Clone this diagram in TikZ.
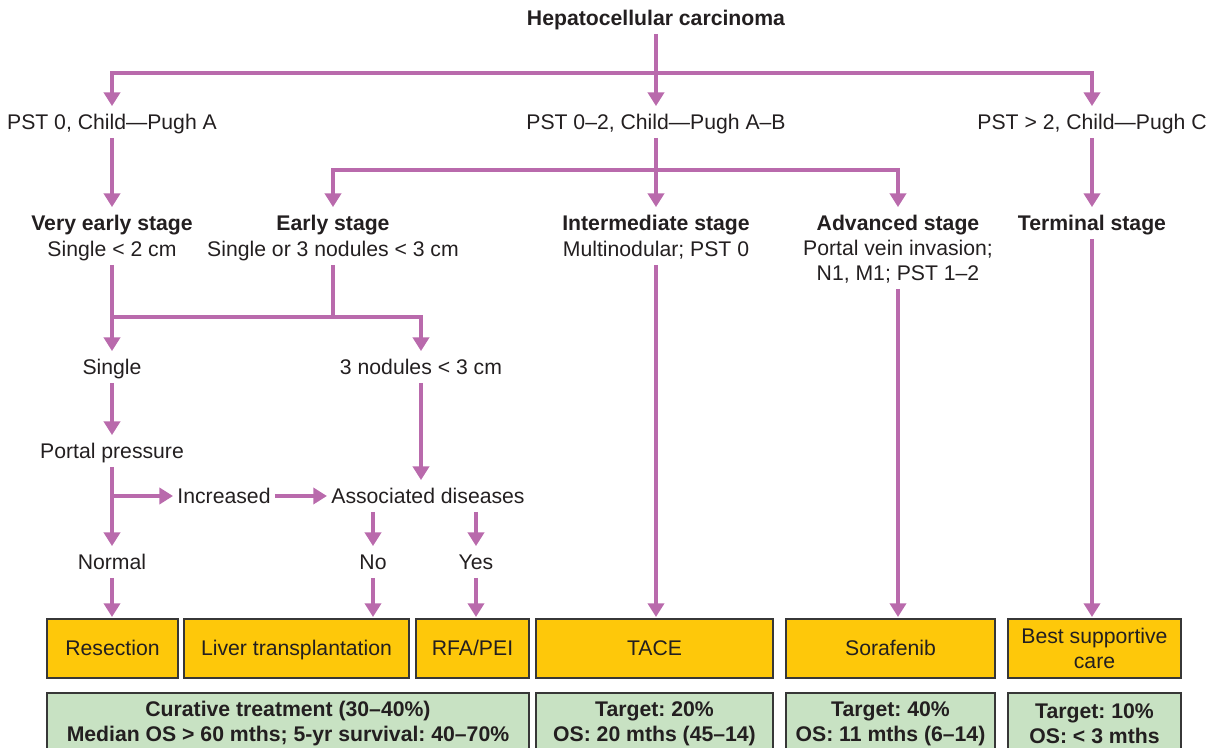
\documentclass[tikz,border=0pt]{standalone}
\usepackage{fontspec}
\setmainfont{Liberation Sans}
\usetikzlibrary{arrows.meta}
\definecolor{pur}{RGB}{185,106,172}
\definecolor{ylw}{RGB}{254,200,10}
\definecolor{grn}{RGB}{200,226,195}
\definecolor{txt}{RGB}{35,31,32}
\definecolor{edge}{RGB}{55,55,55}
\frenchspacing
\begin{document}
\frenchspacing
\begin{tikzpicture}[x=0.5pt,y=-0.5pt,
  every node/.style={font=\fontsize{10.6}{12.5}\selectfont\frenchspacing, text=txt},
  t/.style={inner xsep=2pt, inner ysep=4pt, text height=7.5pt, text depth=0pt},
  tb/.style={t, font=\fontsize{10.6}{12.5}\selectfont\bfseries\frenchspacing},
  conn/.style={draw=pur, line width=2.4pt},
  arr/.style={conn, -{Triangle[width=8pt,length=6.8pt]}},
  ybox/.style={draw=edge, line width=0.7pt, fill=ylw, inner sep=0pt, outer sep=0pt,
    minimum height=29.5pt, align=center, text height=7.5pt, text depth=0pt},
  gbox/.style={draw=edge, line width=0.7pt, fill=grn, inner sep=0pt, outer sep=0pt,
    minimum height=30.5pt, align=center, font=\fontsize{10.6}{12.5}\selectfont\bfseries\frenchspacing},
]
\useasboundingbox (0,0) rectangle (1217,748);

% text nodes
\node[tb] (title) at (656,18) {Hepatocellular carcinoma};
\node[t] (pa) at (112,122) {PST 0, Child—Pugh A};
\node[t] (pb) at (656,122) {PST 0–2, Child—Pugh A–B};
\node[t] (pc) at (1092,122) {PST > 2, Child—Pugh C};

\node[tb] (ve) at (112,223) {Very early stage};
\node[t] (ve2) at (112,249) {Single < 2 cm};
\node[tb] (ea) at (333,223) {Early stage};
\node[t] (ea2) at (333,249) {Single or 3 nodules < 3 cm};
\node[tb] (in) at (656,223) {Intermediate stage};
\node[t] (in2) at (656,249) {Multinodular; PST 0};
\node[tb] (ad) at (898,223) {Advanced stage};
\node[t] (ad2) at (898,248) {Portal vein invasion;};
\node[t] (ad3) at (898,273) {N1, M1; PST 1–2};
\node[tb] (te) at (1092,223) {Terminal stage};

\node[t] (single) at (112,367) {Single};
\node[t] (three) at (421,367) {3 nodules < 3 cm};
\node[t] (portal) at (112,451) {Portal pressure};
\node[t] (incr) at (224,496) {Increased};
\node[t] (assoc) at (428,496) {Associated diseases};
\node[t] (normal) at (112,562) {Normal};
\node[t] (no) at (373,562) {No};
\node[t] (yes) at (476,562) {Yes};

% treatment boxes
\node[ybox, minimum width=65.5pt] (res) at (112.5,648.5) {Resection};
\node[ybox, minimum width=112.5pt] (liver) at (296.5,648.5) {Liver transplantation};
\node[ybox, minimum width=56.5pt] (rfa) at (472.5,648.5) {RFA/PEI};
\node[ybox, minimum width=118.5pt] (tace) at (654.5,648.5) {TACE};
\node[ybox, minimum width=104.5pt] (sora) at (890.5,648.5) {Sorafenib};
\node[ybox, minimum width=86.5pt, text height=20pt, text depth=0pt] (best) at (1094.5,648.5) {Best supportive\\care};

% outcome boxes
\node[gbox, minimum width=241pt] (cur) at (288,723.5) {Curative treatment (30–40\%)\\Median OS > 60 mths; 5-yr survival: 40–70\%};
\node[gbox, minimum width=118.5pt] (o20) at (654.5,723.5) {Target: 20\%\\OS: 20 mths (45–14)};
\node[gbox, minimum width=104.5pt] (o40) at (890.5,723.5) {Target: 40\%\\OS: 11 mths (6–14)};
\node[gbox, minimum width=86.5pt] (o10) at (1094.5,723.5) {Target: 10\%\\OS: < 3 mths};

% connectors
\coordinate (h1) at (656,73);
\draw[conn] (title.south) -- (h1);
\draw[arr] (h1) -| (pa.north);
\draw[arr] (h1) -- (pb.north);
\draw[arr] (h1) -| (pc.north);

\coordinate (h2) at (656,170);
\draw[conn] (pb.south) -- (h2);
\draw[arr] (h2) -| (ea.north);
\draw[arr] (h2) -- (in.north);
\draw[arr] (h2) -| (ad.north);
\draw[arr] (pa.south) -- (ve.north);
\draw[arr] (pc.south) -- (te.north);

\coordinate (h3) at (333,317);
\draw[conn] (ea2.south) -- (h3);
\draw[arr] (h3) -| (three.north);
\draw[conn] (h3) -- (h3 -| ve2.south);
\draw[arr] (ve2.south) -- (single.north);

\draw[arr] (single.south) -- (portal.north);
\draw[arr] (portal.south) -- (normal.north);
\draw[arr] (portal.south |- incr.west) -- (incr.west);
\draw[arr] (incr.east) -- (assoc.west);
\draw[arr] (three.south) -- (three.south |- assoc.north);
\draw[arr] (assoc.south -| no) -- (no.north);
\draw[arr] (assoc.south -| yes) -- (yes.north);

\draw[arr, shorten >=1pt] (normal.south) -- (normal.south |- res.north);
\draw[arr, shorten >=1pt] (no.south) -- (no.south |- liver.north);
\draw[arr, shorten >=1pt] (yes.south) -- (yes.south |- rfa.north);
\draw[arr, shorten >=1pt] (in2.south) -- (in2.south |- tace.north);
\draw[arr, shorten >=1pt] (ad3.south) -- (ad3.south |- sora.north);
\draw[arr, shorten >=1pt] (te.south) -- (te.south |- best.north);
\end{tikzpicture}
\end{document}
